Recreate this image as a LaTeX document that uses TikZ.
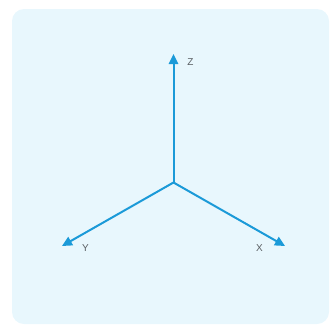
\documentclass[tikz,border=0pt]{standalone}
\usepackage{fontspec}
\setmainfont{Liberation Sans}
\usetikzlibrary{arrows.meta,positioning}
\definecolor{panel}{HTML}{E8F7FD}
\definecolor{axisblue}{HTML}{1B9AD8}
\definecolor{labelgray}{HTML}{5A5F63}

\begin{document}
\begin{tikzpicture}[
    x=0.75pt, y=-0.75pt,
    axis/.style={-{Triangle[length=7.5pt, width=7pt]}, line width=1.5pt, draw=axisblue, fill=axisblue},
    axislabel/.style={font=\fontsize{7.5}{8}\selectfont, text=labelgray, inner sep=0pt}
  ]
    \useasboundingbox (0,0) rectangle (331,325);
    \fill[panel, rounded corners=9pt] (12,9) rectangle (329,324);

    \coordinate (origin) at (173.5,182.5);
    \coordinate (zend) at (173.5,54);
    \coordinate (yend) at (62,246);
    \coordinate (xend) at (285,246);

    \draw[axis] (origin) -- (zend);
    \draw[axis] (origin) -- (yend);
    \draw[axis] (origin) -- (xend);

    \node[axislabel] (zlabel) at (190.5,62) {Z};
    \node[axislabel] (ylabel) at (85.5,248) {Y};
    \node[axislabel] (xlabel) at (259.5,248) {X};
  \end{tikzpicture}
\end{document}
